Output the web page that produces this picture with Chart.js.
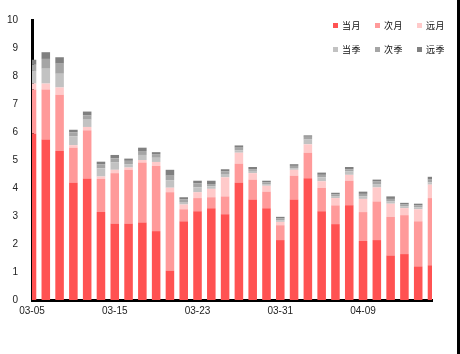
<!DOCTYPE html>
<html>
<head>
  <title>期限结构</title>
  <meta charset="utf-8">
  <script src="https://cdn.jsdelivr.net/npm/chart.js"></script>
  <style>
    body {
      margin: 0;
      padding: 0;
      background: #fff;
    }

    #chart-container {
      position: relative;
      width: 460px;
      height: 354px;
    }

    #legend {
      position: absolute;
      left: 333px;
      top: 13px;
      display: grid;
      grid-template-columns: 42px 42px 42px;
      grid-auto-rows: 24px;
      font-family: "Noto Sans CJK SC", sans-serif;
      font-size: 9px;
      letter-spacing: 0.5px;
      color: #111;
    }

    #legend span.item {
      display: flex;
      align-items: center;
    }

    #legend i {
      display: inline-block;
      width: 5px;
      height: 5px;
      margin-right: 4px;
    }

    #edge {
      position: absolute;
      right: 0;
      top: 0;
      width: 3px;
      height: 354px;
      background: #000;
    }
  </style>
</head>
<body>

  <div id="chart-container">
    <canvas id="myChart"></canvas>
    <div id="legend"></div>
    <div id="edge"></div>
  </div>

  <script>
    const tanggal = ['03-05','03-08','03-09','03-10','03-11','03-12','03-15','03-16','03-17','03-18',
                     '03-19','03-22','03-23','03-24','03-25','03-26','03-29','03-30','03-31','04-01',
                     '04-02','04-06','04-07','04-08','04-09','04-12','04-13','04-14','04-15','04-16'];

    const dangYue = [5.95,5.73,5.32,4.20,4.34,3.14,2.73,2.73,2.77,2.46,
                     1.05,2.81,3.17,3.28,3.06,4.20,3.59,3.28,2.14,3.59,
                     4.35,3.17,2.71,3.38,2.11,2.14,1.59,1.64,1.20,1.24];
    const ciYue    = [1.57,1.79,2.01,1.24,1.72,1.19,1.80,1.92,2.14,2.33,
                     2.80,0.43,0.47,0.39,0.64,0.67,0.71,0.59,0.53,0.85,
                     0.91,0.83,0.67,0.88,1.03,1.38,1.38,1.39,1.61,2.40];
    const yuanYue  = [0.21,0.21,0.26,0.09,0.12,0.08,0.12,0.08,0.09,0.14,
                     0.16,0.17,0.21,0.30,0.68,0.39,0.23,0.21,0.12,0.21,
                     0.30,0.24,0.26,0.21,0.47,0.50,0.47,0.25,0.43,0.48];
    const dangJi   = [0.45,0.53,0.49,0.32,0.26,0.29,0.26,0.12,0.18,0.15,
                     0.27,0.09,0.17,0.09,0.12,0.09,0.08,0.06,0.06,0.06,
                     0.17,0.14,0.07,0.12,0.09,0.12,0.09,0.07,0.07,0.08];
    const ciJi     = [0.22,0.35,0.36,0.14,0.15,0.15,0.15,0.12,0.14,0.13,
                     0.16,0.09,0.15,0.08,0.09,0.09,0.06,0.06,0.06,0.08,
                     0.10,0.09,0.06,0.08,0.09,0.09,0.08,0.06,0.07,0.10];
    const yuanJi   = [0.18,0.24,0.23,0.09,0.14,0.09,0.12,0.08,0.12,0.07,
                     0.21,0.08,0.09,0.12,0.08,0.08,0.08,0.06,0.06,0.06,
                     0.05,0.08,0.06,0.08,0.08,0.07,0.09,0.06,0.06,0.10];

    const namaSeri = ['当月', '次月', '远月', '当季', '次季', '远季'];
    const warna = ['#ff5252', '#ff9a9a', '#ffcaca', '#c2c2c2', '#a5a5a5', '#808080'];
    const dataSeri = [dangYue, ciYue, yuanYue, dangJi, ciJi, yuanJi];

    const ctx = document.getElementById('myChart').getContext('2d');
    const chart = new Chart(ctx, {
      type: 'bar',
      data: {
        labels: tanggal,
        datasets: dataSeri.map((d, i) => ({
          label: namaSeri[i],
          data: d,
          backgroundColor: warna[i],
          borderWidth: 0,
          barPercentage: 1,
          categoryPercentage: 0.62
        }))
      },
      options: {
        responsive: true,
        maintainAspectRatio: false,
        animation: false,
        layout: {
          padding: { top: 17, right: 28, bottom: 0, left: 0 }
        },
        plugins: {
          legend: { display: false },
          tooltip: { enabled: false }
        },
        scales: {
          x: {
            stacked: true,
            offset: false,
            grid: { display: false, drawTicks: false },
            border: { display: true, color: '#000', width: 3 },
            ticks: {
              autoSkip: false,
              maxRotation: 0,
              padding: 5,
              color: '#222',
              font: { family: 'Liberation Sans', size: 10 },
              callback: (v, i) => (i % 6 === 0 ? tanggal[i] : '')
            },
            afterFit: s => { s.height = 54; }
          },
          y: {
            stacked: true,
            min: 0,
            max: 10,
            grid: { display: false, drawTicks: false },
            border: { display: true, color: '#000', width: 3 },
            ticks: {
              stepSize: 1,
              padding: 14,
              color: '#222',
              font: { family: 'Liberation Sans', size: 10 }
            },
            afterFit: s => { s.width = 32; }
          }
        }
      }
    });

    // legenda 2 baris x 3 kolom
    const legend = document.getElementById('legend');
    namaSeri.forEach((n, i) => {
      const el = document.createElement('span');
      el.className = 'item';
      el.innerHTML = '<i style="background:' + warna[i] + '"></i>' + n;
      legend.appendChild(el);
    });
  </script>

</body>
</html>
